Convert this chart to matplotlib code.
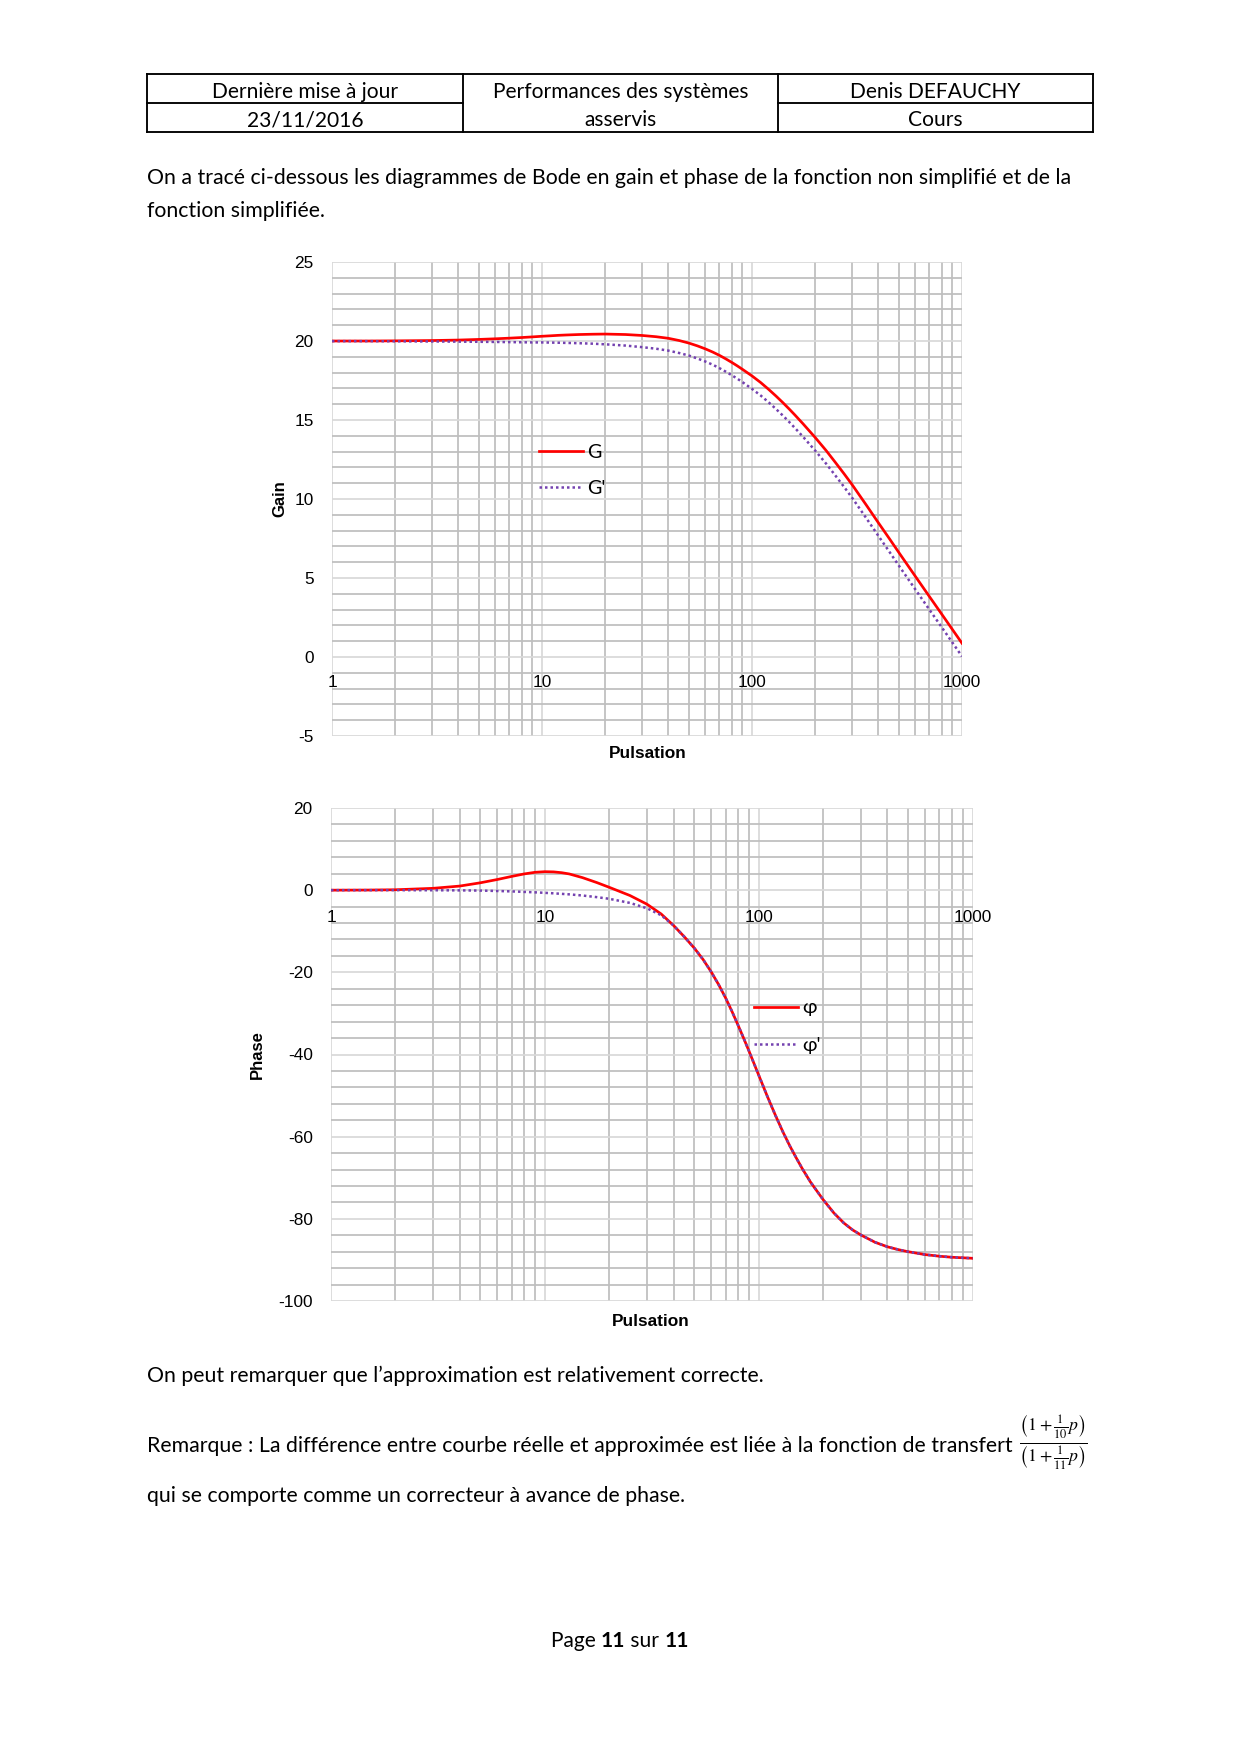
import matplotlib
matplotlib.use('Agg')
import matplotlib.pyplot as plt
from matplotlib.lines import Line2D
from matplotlib.ticker import FixedLocator, FixedFormatter, NullFormatter

plt.rcParams['axes.unicode_minus'] = False
plt.rcParams['mathtext.fontset'] = 'stix'

# ---------------- data ----------------
puls = [1, 1.5, 2, 3, 4, 5, 6, 7, 8, 9, 10, 11, 12, 13, 15, 17.5, 20, 25, 30, 35,
        40, 45, 50, 55, 60, 65, 70, 75, 80, 85, 90, 100, 110, 120, 130, 140, 150,
        160, 175, 200, 225, 250, 275, 300, 350, 400, 450, 500, 600, 700, 800, 1000]

gain_G = [20.00, 20.00, 20.01, 20.03, 20.06, 20.10, 20.14, 20.18, 20.22, 20.26,
          20.30, 20.33, 20.36, 20.38, 20.41, 20.43, 20.44, 20.41, 20.35, 20.27,
          20.17, 20.03, 19.87, 19.69, 19.50, 19.30, 19.09, 18.87, 18.65, 18.43,
          18.21, 17.79, 17.37, 16.94, 16.52, 16.11, 15.71, 15.32, 14.76, 13.89,
          13.08, 12.30, 11.58, 10.90, 9.62, 8.49, 7.51, 6.62, 5.10, 3.82, 2.72, 0.87]

gain_Gp = [19.99, 19.99, 19.98, 19.97, 19.96, 19.95, 19.94, 19.93, 19.92, 19.91,
           19.91, 19.90, 19.89, 19.88, 19.86, 19.83, 19.79, 19.71, 19.61, 19.51,
           19.39, 19.24, 19.08, 18.89, 18.70, 18.50, 18.28, 18.06, 17.84, 17.62,
           17.40, 16.97, 16.55, 16.12, 15.70, 15.29, 14.89, 14.50, 13.94, 13.06,
           12.25, 11.47, 10.75, 10.07, 8.79, 7.66, 6.68, 5.79, 4.27, 2.99, 1.89, 0.04]

phase_phi = [0.0, 0.03, 0.1, 0.45, 1.0, 1.8, 2.6, 3.35, 3.95, 4.35,
             4.5, 4.45, 4.25, 3.95, 3.05, 1.85, 0.7, -1.3, -3.4, -5.8,
             -8.6, -11.4, -14.1, -16.9, -19.9, -23.0, -26.2, -29.5, -32.8, -36.0,
             -39.1, -45.0, -50.3, -54.9, -58.9, -62.3, -65.2, -67.8, -71.1, -75.3,
             -78.6, -81.0, -82.7, -83.9, -85.7, -86.8, -87.5, -88.0, -88.7, -89.1, -89.35, -89.6]

phase_phip = [0.0, 0.0, 0.0, -0.02, -0.05, -0.1, -0.2, -0.3, -0.42, -0.53,
              -0.65, -0.77, -0.9, -1.02, -1.3, -1.7, -2.1, -3.1, -4.4, -6.1,
              -8.6, -11.4, -14.1, -16.9, -19.9, -23.0, -26.2, -29.5, -32.8, -36.0,
              -39.1, -45.0, -50.3, -54.9, -58.9, -62.3, -65.2, -67.8, -71.1, -75.3,
              -78.6, -81.0, -82.7, -83.9, -85.7, -86.8, -87.5, -88.0, -88.7, -89.1, -89.35, -89.6]

x_ticks = [1, 10, 100, 1000]
x_tick_labels = ['1', '10', '100', '1000']
gain_ticks = [-5, 0, 5, 10, 15, 20, 25]
phase_ticks = [-100, -80, -60, -40, -20, 0, 20]

header_row1 = ['Dernière mise à jour', 'Performances des systèmes', 'Denis DEFAUCHY']
header_row2 = ['23/11/2016', 'asservis', 'Cours']

# ---------------- figure ----------------
W, H, DPI = 1240, 1754, 150
fig = plt.figure(figsize=(W / DPI, H / DPI), dpi=DPI)
fig.patch.set_facecolor('white')


def fx(x):
    return x / W


def fy(y):
    return 1 - y / H


TEXT_FONT = ['Lato', 'DejaVu Sans']
CHART_FONT = ['Liberation Sans', 'DejaVu Sans']
HEAD_SIZE = 10.1
BODY_SIZE = 10.22

# ---------------- header table ----------------
tl, tr, tt, tm, tb = 147, 1093, 74, 103, 132
c1, c2 = 463, 778
lw_tab = 0.9
for (xa, ya, xb, yb) in [(tl, tt, tr, tt), (tl, tb, tr, tb), (tl, tt, tl, tb),
                         (tr, tt, tr, tb), (c1, tt, c1, tb), (c2, tt, c2, tb),
                         (tl, tm, c1, tm), (c2, tm, tr, tm)]:
    fig.add_artist(Line2D([fx(xa), fx(xb)], [fy(ya), fy(yb)], color='black',
                          lw=lw_tab, transform=fig.transFigure))

centers = [(tl + c1) / 2, (c1 + c2) / 2, (c2 + tr) / 2]
for cx, s in zip(centers, header_row1):
    fig.text(fx(cx), fy(97.5), s, ha='center', va='baseline', family=TEXT_FONT, size=HEAD_SIZE)
for cx, s in zip(centers, header_row2):
    fig.text(fx(cx), fy(126.5), s, ha='center', va='baseline', family=TEXT_FONT, size=HEAD_SIZE)

# ---------------- body text ----------------
fig.text(fx(147), fy(184.5), "On a tracé ci-dessous les diagrammes de Bode en gain et phase de la fonction non simplifié et de la",
         ha='left', va='baseline', family=TEXT_FONT, size=BODY_SIZE)
fig.text(fx(147), fy(217), "fonction simplifiée.", ha='left', va='baseline', family=TEXT_FONT, size=BODY_SIZE)
fig.text(fx(147), fy(1382), "On peut remarquer que l’approximation est relativement correcte.",
         ha='left', va='baseline', family=TEXT_FONT, size=BODY_SIZE)
fig.text(fx(147), fy(1452), "Remarque : La différence entre courbe réelle et approximée est liée à la fonction de transfert",
         ha='left', va='baseline', family=TEXT_FONT, size=BODY_SIZE)
fig.text(fx(1019), fy(1443), r'$\frac{\left(1+\frac{1}{10}p\right)}{\left(1+\frac{1}{11}p\right)}$',
         ha='left', va='center', size=12.2)
fig.text(fx(147), fy(1502), "qui se comporte comme un correcteur à avance de phase.",
         ha='left', va='baseline', family=TEXT_FONT, size=BODY_SIZE)

# footer with bold runs
renderer = fig.canvas.get_renderer()
runs = [('Page ', 'normal'), ('11', 'bold'), (' sur ', 'normal'), ('11', 'bold')]
texts = []
for s, wgt in runs:
    t = fig.text(0, fy(1647), s, ha='left', va='baseline', family=TEXT_FONT,
                 size=HEAD_SIZE, weight=wgt)
    texts.append(t)
widths = [t.get_window_extent(renderer).width for t in texts]
xstart = 620 - sum(widths) / 2
for t, w in zip(texts, widths):
    t.set_x(fx(xstart))
    xstart += w


# ---------------- chart helper ----------------
def style_axes(ax, ylo, yhi, yticks, yminor_step, xlab_off):
    ax.set_xscale('log')
    ax.set_xlim(1, 1000)
    ax.set_ylim(ylo, yhi)
    ax.xaxis.set_major_locator(FixedLocator(x_ticks))
    ax.xaxis.set_minor_locator(FixedLocator([m * 10 ** k for k in range(3) for m in range(2, 10)]))
    ax.xaxis.set_major_formatter(NullFormatter())
    ax.xaxis.set_minor_formatter(NullFormatter())
    ax.yaxis.set_major_locator(FixedLocator(yticks))
    ax.yaxis.set_major_formatter(FixedFormatter([str(v) for v in yticks]))
    minors = [v for v in range(ylo, yhi + 1, yminor_step) if v not in yticks]
    ax.yaxis.set_minor_locator(FixedLocator(minors))
    ax.grid(which='major', color='#D9D9D9', lw=0.85)
    ax.grid(which='minor', color='#BFBFBF', lw=0.85)
    ax.set_axisbelow(True)
    ax.tick_params(which='both', length=0)
    ax.tick_params(axis='y', which='major', pad=8.8, labelsize=8.3)
    for lab in ax.get_yticklabels():
        lab.set_family(CHART_FONT)
    for sp in ax.spines.values():
        sp.set_visible(False)
    for v, s in zip(x_ticks, x_tick_labels):
        ax.annotate(s, xy=(v, 0), xycoords='data', xytext=(0, xlab_off), textcoords='offset points',
                    ha='center', va='baseline', family=CHART_FONT, size=8.3, annotation_clip=False)


RED = '#FF0000'
PURPLE = '#7442B0'
DOT = (0, (1.0, 1.2))

# ---------------- gain chart ----------------
axg = fig.add_axes([fx(332), fy(736), (962 - 332) / W, (736 - 262) / H])
style_axes(axg, -5, 25, gain_ticks, 1, -14.2)
axg.plot(puls, gain_G, color=RED, lw=1.3, label='G')
axg.plot(puls, gain_Gp, color=PURPLE, lw=1.2, ls=DOT, label="G'")
axg.legend(loc='upper left', bbox_to_anchor=(fx(539), fy(444)), bbox_transform=fig.transFigure,
           frameon=False, borderpad=0, borderaxespad=0, handlelength=2.2, handletextpad=0.25,
           labelspacing=0.95, prop={'family': TEXT_FONT, 'size': 9.5})
fig.text(fx(279.5), fy(499), 'Gain', rotation=90, ha='center', va='center', family=CHART_FONT,
         weight='bold', size=8)
fig.text(fx(648), fy(753), 'Pulsation', ha='center', va='center', family=CHART_FONT,
         weight='bold', size=8.3)

# ---------------- phase chart ----------------
axp = fig.add_axes([fx(331), fy(1301), (972.5 - 331) / W, (1301 - 808) / H])
style_axes(axp, -100, 20, phase_ticks, 4, -15.2)
axp.plot(puls, phase_phi, color=RED, lw=1.3, label='φ')
axp.plot(puls, phase_phip, color=PURPLE, lw=1.2, ls=DOT, label="φ'")
axp.legend(loc='upper left', bbox_to_anchor=(fx(754), fy(999.5)), bbox_transform=fig.transFigure,
           frameon=False, borderpad=0, borderaxespad=0, handlelength=2.2, handletextpad=0.25,
           labelspacing=1.03, prop={'family': TEXT_FONT, 'size': 9.5})
fig.text(fx(257), fy(1055), 'Phase', rotation=90, ha='center', va='center', family=CHART_FONT,
         weight='bold', size=8)
fig.text(fx(651), fy(1321), 'Pulsation', ha='center', va='center', family=CHART_FONT,
         weight='bold', size=8.3)

fig.savefig('out.png', dpi=DPI, facecolor='white')
